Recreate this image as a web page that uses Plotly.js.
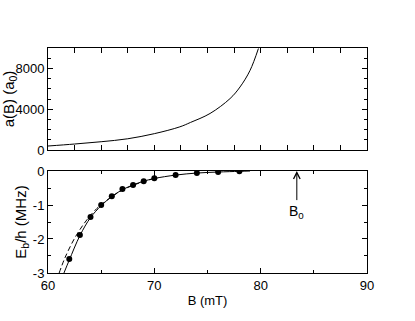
<!DOCTYPE html>
<html>
<head>
<meta charset="utf-8">
<script src="https://cdn.plot.ly/plotly-3.0.1.min.js"></script>
<style>
  body { margin: 0; background: #fff; }
  #chart { width: 415px; height: 321px; }
</style>
</head>
<body>
<div id="chart"></div>
<script>
// top panel: scattering length a(B)
var aField = [60, 62.5, 65, 67.5, 70, 72.4, 73.4, 75.24, 77.12, 78.06, 79.0, 79.79];
var aValue = [390, 585, 810, 1100, 1600, 2270, 2700, 3580, 5040, 6180, 7800, 9950];

// bottom panel: binding energy, measured dots
var dotField = [62, 63, 64, 65, 66, 67, 68, 69, 70, 72, 74, 76, 78];
var dotEnergy = [-2.59, -1.88, -1.35, -1.0, -0.74, -0.53, -0.41, -0.3, -0.21, -0.12, -0.06, -0.03, -0.01];

// solid curve through the dots
var solidField = [61.5, 62, 63, 64, 65, 66, 67, 68, 69, 70, 72, 74, 76, 78, 79];
var solidEnergy = [-3, -2.62, -1.9, -1.37, -1.02, -0.75, -0.55, -0.41, -0.3, -0.22, -0.12, -0.06, -0.03, -0.01, 0];

// dashed curve, slightly to the left
var dashField = [61.05, 61.6, 62.5, 63.5, 64.6, 65.8, 67, 68, 69, 70];
var dashEnergy = [-3, -2.55, -1.98, -1.5, -1.1, -0.8, -0.56, -0.42, -0.31, -0.22];

var yTopTicks = [0, 4000, 8000];
var yTopLabels = ['0', '4000', '8000'];
var yBotTicks = [0, -1, -2, -3];
var yBotLabels = ['0', '-1', '-2', '-3'];
var xTicks = [60, 70, 80, 90];
var xLabels = ['60', '70', '80', '90'];

var B0 = 83.4;

var traces = [
  {
    x: aField, y: aValue, xaxis: 'x', yaxis: 'y',
    type: 'scatter', mode: 'lines',
    line: { color: '#000', width: 1, shape: 'spline' },
    hoverinfo: 'none'
  },
  {
    x: dashField, y: dashEnergy, xaxis: 'x2', yaxis: 'y2',
    type: 'scatter', mode: 'lines',
    line: { color: '#000', width: 1, dash: '5px,3px', shape: 'spline' },
    hoverinfo: 'none'
  },
  {
    x: solidField, y: solidEnergy, xaxis: 'x2', yaxis: 'y2',
    type: 'scatter', mode: 'lines',
    line: { color: '#000', width: 1, shape: 'spline' },
    hoverinfo: 'none'
  },
  {
    x: dotField, y: dotEnergy, xaxis: 'x2', yaxis: 'y2',
    type: 'scatter', mode: 'markers',
    marker: { color: '#000', size: 6 },
    hoverinfo: 'none'
  }
];

var axisBase = {
  showgrid: false, zeroline: false,
  showline: true, linecolor: '#000', linewidth: 1, mirror: 'ticks',
  ticks: 'inside', ticklen: 5, tickcolor: '#000', tickwidth: 1,
  tickfont: { size: 13, color: '#000' }
};

var layout = {
  width: 415, height: 321,
  margin: { l: 48, r: 48, t: 48, b: 48 },
  paper_bgcolor: '#fff', plot_bgcolor: '#fff',
  showlegend: false,
  font: { family: 'Liberation Sans, Arial, sans-serif', color: '#000', size: 13 },
  xaxis: Object.assign({}, axisBase, {
    domain: [0, 1], anchor: 'y', range: [60, 90],
    dtick: 2.5, tick0: 60, showticklabels: false
  }),
  yaxis: Object.assign({}, axisBase, {
    domain: [0.5467, 1], anchor: 'x', range: [0, 10000],
    tickvals: yTopTicks, ticktext: yTopLabels, ticklabelstandoff: 0,
    minor: { dtick: 1000, ticks: 'inside', ticklen: 3, tickcolor: '#000' },
    title: { text: 'a(B) (a<sub>0</sub>)', font: { size: 15 }, standoff: 2 }
  }),
  xaxis2: Object.assign({}, axisBase, {
    domain: [0, 1], anchor: 'y2', range: [60, 90],
    tickvals: xTicks, ticktext: xLabels,
    minor: { dtick: 5, ticks: 'inside', ticklen: 3, tickcolor: '#000' },
    title: { text: 'B (mT)', font: { size: 13 }, standoff: 4 }
  }),
  yaxis2: Object.assign({}, axisBase, {
    domain: [0, 0.4533], anchor: 'x2', range: [-3, 0],
    tickvals: yBotTicks, ticktext: yBotLabels, ticklabelstandoff: 0,
    minor: { dtick: 0.5, ticks: 'inside', ticklen: 3, tickcolor: '#000' },
    title: { text: 'E<sub>b</sub>/h (MHz)', font: { size: 15 }, standoff: 2 }
  }),
  annotations: [
    {
      x: B0, y: 0, xref: 'x2', yref: 'y2',
      ax: B0, ay: -0.9, axref: 'x2', ayref: 'y2',
      showarrow: true, arrowhead: 5, arrowsize: 1.3, arrowwidth: 1, arrowcolor: '#000',
      text: ''
    },
    {
      x: B0, y: -1.2, xref: 'x2', yref: 'y2',
      showarrow: false, text: 'B<sub>0</sub>',
      font: { size: 14, color: '#000' }
    }
  ]
};

Plotly.newPlot('chart', traces, layout, { displayModeBar: false, staticPlot: true });
</script>
</body>
</html>
